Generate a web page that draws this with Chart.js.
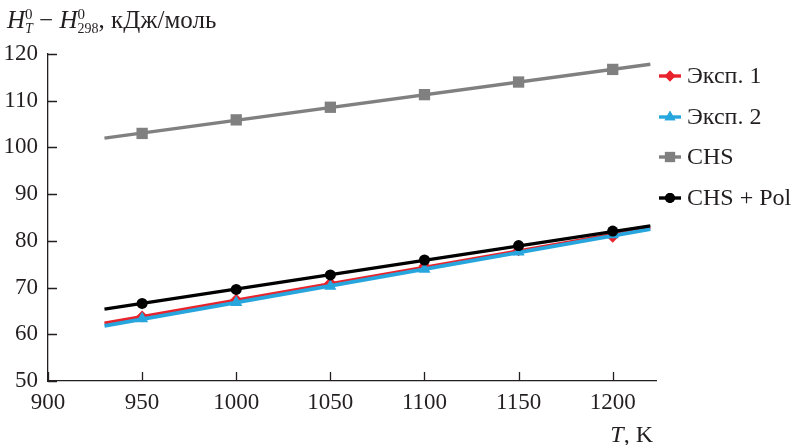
<!DOCTYPE html>
<html><head><meta charset="utf-8">
<script src="https://cdn.jsdelivr.net/npm/chart.js@4"></script>
<style>html,body{margin:0;padding:0;background:#fff}#wrap{width:798px;height:445px}</style>
</head><body><div id="wrap"><canvas id="c" width="798" height="445"></canvas></div>
<script>
// ---- data ----
const temps = [950, 1000, 1050, 1100, 1150, 1200];
const exp1 = [63.8, 67.4, 71.0, 74.6, 78.0, 80.9];
const exp2 = [63.3, 66.8, 70.3, 73.9, 77.6, 81.3];
const chs = [103.0, 105.9, 108.6, 111.3, 114.0, 116.7];
const chsPol = [66.6, 69.6, 72.7, 75.9, 79.0, 82.1];
const fitT = [930, 1220];
const exp1Fit = [62.4, 82.8];
const exp2Fit = [61.8, 82.5];
const chsFit = [102.0, 117.8];
const chsPolFit = [65.4, 83.2];
const seriesNames = ['Эксп. 1', 'Эксп. 2', 'CHS', 'CHS + Pol'];
const xTicks = [900, 950, 1000, 1050, 1100, 1150, 1200];
const yTicks = [50, 60, 70, 80, 90, 100, 110, 120];

const FONT = '"Liberation Serif","Times New Roman",serif';
const TXT = '#231f20';
const colors = ['#e8232b', '#27a6de', '#808080', '#000000'];
const styles = [
  {pointStyle: 'rectRot', radius: 6},
  {pointStyle: 'triangle', radius: 7},
  {pointStyle: 'rect', radius: 8},
  {pointStyle: 'circle', radius: 5.5}
];
const pts = (xs, ys) => xs.map((x, i) => ({x: x, y: ys[i]}));
const markerSets = [exp1, exp2, chs, chsPol];
const fitSets = [exp1Fit, exp2Fit, chsFit, chsPolFit];
const orders = [2, 1, 3, 0];
const widths = [3.2, 3.8, 3.4, 3.4];

const datasets = [];
for (let i = 0; i < 4; i++) {
  datasets.push({
    label: seriesNames[i] + ' fit', data: pts(fitT, fitSets[i]), showLine: true,
    borderColor: colors[i], borderWidth: widths[i], pointRadius: 0, order: orders[i] * 2 + 1
  });
  datasets.push({
    label: seriesNames[i], data: pts(temps, markerSets[i]), showLine: false,
    backgroundColor: colors[i], borderColor: colors[i], borderWidth: 0,
    pointStyle: styles[i].pointStyle, pointRadius: styles[i].radius, order: orders[i] * 2
  });
}

function drawRich(ctx, parts, x, y) {
  for (const p of parts) {
    if (p.stack) {
      let w = 0;
      for (const s of p.stack) {
        ctx.font = (s.it ? 'italic ' : '') + s.size + 'px ' + FONT;
        ctx.fillText(s.t, x, y + s.dy);
        w = Math.max(w, ctx.measureText(s.t).width);
      }
      x += w;
    } else {
      ctx.font = (p.it ? 'italic ' : '') + p.size + 'px ' + FONT;
      ctx.fillText(p.t, x, y + (p.dy || 0));
      x += ctx.measureText(p.t).width;
    }
  }
  return x;
}

const extras = {
  id: 'extras',
  afterDraw(chart) {
    const ctx = chart.ctx;
    const xs = chart.scales.x, ys = chart.scales.y;
    ctx.save();
    // inward tick marks
    ctx.strokeStyle = TXT; ctx.lineWidth = 1.3;
    ctx.beginPath();
    for (const v of xTicks) {
      const px = Math.round(xs.getPixelForValue(v)) + 0.5;
      ctx.moveTo(px, ys.bottom); ctx.lineTo(px, ys.bottom - 9);
    }
    for (const v of yTicks) {
      const py = Math.round(ys.getPixelForValue(v)) + 0.5;
      ctx.moveTo(xs.left, py); ctx.lineTo(xs.left + 9, py);
    }
    ctx.stroke();

    // y-axis title
    ctx.fillStyle = TXT; ctx.textBaseline = 'alphabetic'; ctx.textAlign = 'left';
    drawRich(ctx, [
      {t: 'H', it: true, size: 25},
      {stack: [{t: '0', size: 15, dy: -9}, {t: 'T', it: true, size: 14, dy: 5}]},
      {t: ' − ', size: 25},
      {t: 'H', it: true, size: 25},
      {stack: [{t: '0', size: 15, dy: -9}, {t: '298', size: 14, dy: 5}]},
      {t: ', кДж/моль', size: 25}
    ], 7, 28);

    // x-axis title
    ctx.font = '24px ' + FONT;
    const w2 = ctx.measureText(', K').width;
    ctx.font = 'italic 24px ' + FONT;
    const w1 = ctx.measureText('T').width;
    const xr = 653;
    ctx.fillText('T', xr - w1 - w2, 442);
    ctx.font = '24px ' + FONT;
    ctx.fillText(', K', xr - w2, 442);

    // legend
    const ly = [76, 117, 157, 198];
    for (let i = 0; i < 4; i++) {
      ctx.strokeStyle = colors[i]; ctx.fillStyle = colors[i]; ctx.lineWidth = 3.4;
      ctx.beginPath(); ctx.moveTo(659, ly[i]); ctx.lineTo(681, ly[i]); ctx.stroke();
      Chart.helpers.drawPoint(ctx, {pointStyle: styles[i].pointStyle, radius: styles[i].radius * 0.9, rotation: 0, borderWidth: 0}, 670, ly[i]);
      ctx.fill();
      ctx.fillStyle = TXT; ctx.font = '24px ' + FONT; ctx.textBaseline = 'middle';
      ctx.fillText(seriesNames[i], 687, ly[i] + 1);
      ctx.textBaseline = 'alphabetic';
    }
    ctx.restore();
  }
};

new Chart(document.getElementById('c'), {
  type: 'scatter',
  data: {datasets: datasets},
  options: {
    responsive: false, animation: false, devicePixelRatio: 1,
    layout: {padding: {top: 54, right: 142, left: 0, bottom: 0}},
    plugins: {legend: {display: false}, tooltip: {enabled: false}},
    scales: {
      x: {
        type: 'linear', min: 900, max: 1223,
        afterFit: s => { s.height = 64; },
        afterBuildTicks: s => { s.ticks = xTicks.map(v => ({value: v})); },
        grid: {display: false, drawTicks: false},
        border: {display: true, color: TXT, width: 1.3},
        ticks: {font: {family: FONT, size: 23}, color: TXT, padding: 8, maxRotation: 0, autoSkip: false,
                callback: v => String(v)}
      },
      y: {
        min: 50, max: 120,
        afterFit: s => { s.width = 48; },
        afterBuildTicks: s => { s.ticks = yTicks.map(v => ({value: v})); },
        grid: {display: false, drawTicks: false},
        border: {display: true, color: TXT, width: 1.3},
        ticks: {font: {family: FONT, size: 23}, color: TXT, padding: 10, callback: v => String(v)}
      }
    }
  },
  plugins: [extras]
});
</script>
</body></html>
